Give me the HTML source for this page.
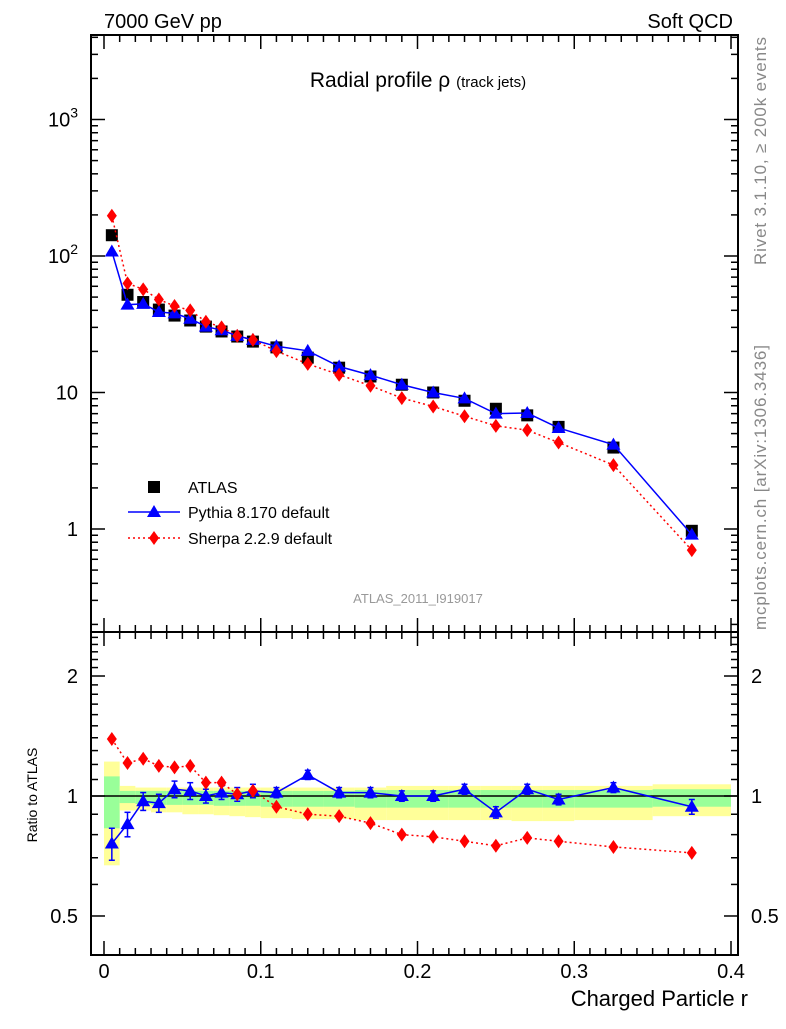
<!DOCTYPE html>
<html><head><meta charset="utf-8"><style>
body{margin:0;background:#fff;}
svg text{font-family:"Liberation Sans",sans-serif;}
</style></head><body>
<svg id="c" width="786" height="1024" xmlns="http://www.w3.org/2000/svg">
<g id="bands"></g><g id="grid"></g><g id="marks"></g><g id="axes"></g>
<text x="104" y="28" font-size="20">7000 GeV pp</text>
<text x="733" y="28" font-size="20" text-anchor="end">Soft QCD</text>
<text x="418" y="87" font-size="21" text-anchor="middle">Radial profile ρ <tspan font-size="15">(track jets)</tspan></text>
<text x="418" y="603" font-size="13" fill="#999" text-anchor="middle">ATLAS_2011_I919017</text>
<text transform="translate(766,265) rotate(-90)" font-size="17" fill="#888" textLength="228">Rivet 3.1.10, ≥ 200k events</text>
<text transform="translate(766,630) rotate(-90)" font-size="17" fill="#888" textLength="285">mcplots.cern.ch [arXiv:1306.3436]</text>
<text transform="translate(37,795) rotate(-90)" font-size="14" text-anchor="middle">Ratio to ATLAS</text>
<text x="748" y="1006" font-size="22" text-anchor="end">Charged Particle r</text>
<g>
<rect x="148" y="481" width="12" height="12" fill="#000"/>
<text x="188" y="493" font-size="16">ATLAS</text>
<line x1="128" y1="512" x2="180" y2="512" stroke="#00f" stroke-width="1.5"/>
<polygon points="154,505 161,517 147,517" fill="#00f"/>
<text x="188" y="518" font-size="16">Pythia 8.170 default</text>
<line x1="128" y1="538" x2="180" y2="538" stroke="#f00" stroke-width="1.5" stroke-dasharray="2,3"/>
<polygon points="154,531 159,538 154,545 149,538" fill="#f00"/>
<text x="188" y="544" font-size="16">Sherpa 2.2.9 default</text>
</g>
</svg>
<script>
const xs=[0.005,0.015,0.025,0.035,0.045,0.055,0.065,0.075,0.085,0.095,0.11,0.13,0.15,0.17,0.19,0.21,0.23,0.25,0.27,0.29,0.325,0.375];
const atlas=[142,52,46,40.5,36.6,33.7,30.4,28,25.7,23.6,21.4,18,15.2,13.1,11.4,10,8.7,7.6,6.8,5.6,3.95,0.97];
const pythia=[108,44,44.6,38.9,38,34.7,30.4,28.6,26,24.3,21.8,20.2,15.5,13.4,11.4,10,9.05,7,7.07,5.5,4.15,0.91];
const sherpa=[197,63,57,48,43,40,33,30,26,24.3,20.1,16.2,13.5,11.2,9.1,7.9,6.7,5.7,5.3,4.3,2.94,0.70];
const pythiaRatio=[0.76,0.85,0.97,0.96,1.04,1.03,1.0,1.02,1.01,1.03,1.02,1.13,1.02,1.02,1.0,1.0,1.04,0.91,1.04,0.98,1.05,0.94];
const pythiaRatioErr=[0.07,0.06,0.05,0.05,0.05,0.05,0.04,0.04,0.04,0.04,0.03,0.03,0.03,0.03,0.03,0.03,0.03,0.03,0.03,0.03,0.03,0.04];
const sherpaRatio=[1.39,1.21,1.24,1.19,1.18,1.19,1.08,1.08,1.01,1.03,0.94,0.90,0.89,0.855,0.80,0.79,0.77,0.75,0.785,0.77,0.745,0.72];
const binEdges=[0,.01,.02,.03,.04,.05,.06,.07,.08,.09,.1,.12,.14,.16,.18,.2,.22,.24,.26,.28,.3,.35,.4];
const yellowHi=[1.22,1.06,1.05,1.05,1.05,1.05,1.05,1.05,1.05,1.05,1.05,1.05,1.05,1.05,1.06,1.06,1.06,1.06,1.06,1.06,1.06,1.07];
const yellowLo=[0.67,0.92,0.92,0.91,0.91,0.90,0.90,0.895,0.89,0.885,0.88,0.875,0.875,0.87,0.87,0.87,0.87,0.87,0.865,0.865,0.87,0.89];
const greenHi=[1.12,1.03,1.03,1.03,1.03,1.03,1.03,1.03,1.03,1.03,1.03,1.03,1.03,1.035,1.035,1.035,1.035,1.035,1.035,1.035,1.035,1.04];
const greenLo=[0.83,0.96,0.955,0.95,0.95,0.95,0.95,0.945,0.945,0.945,0.94,0.94,0.94,0.935,0.935,0.935,0.935,0.935,0.935,0.935,0.935,0.94];
const mainTicks=[1,10,100,1000];
const mainTickBase=["1","10","10","10"];
const mainTickExp=["","","2","3"];
const ratioTicks=[0.5,1,2];
const ratioTickLabels=["0.5","1","2"];
const xTicks=[0,0.1,0.2,0.3,0.4];
const xTickLabels=["0","0.1","0.2","0.3","0.4"];

const NS="http://www.w3.org/2000/svg";
const L=91,R=738,T1=35,B1=632,T2=632,B2=955;
const X=v=>104+v*1567.5;
const Y1=v=>529-Math.log10(v)*136.5;
const Y2=v=>796-Math.log10(v)*398.6;
function mk(parent,tag,attrs){const e=document.createElementNS(NS,tag);for(const k in attrs)e.setAttribute(k,attrs[k]);document.getElementById(parent).appendChild(e);return e;}

for(let i=0;i<yellowHi.length;i++){
 const x0=X(binEdges[i]),x1=X(binEdges[i+1]);
 let e=mk('bands','rect',{x:x0,y:Y2(yellowHi[i]),width:x1-x0,height:Y2(yellowLo[i])-Y2(yellowHi[i]),fill:'#ffff99'});
 
 
 e=mk('bands','rect',{x:x0,y:Y2(greenHi[i]),width:x1-x0,height:Y2(greenLo[i])-Y2(greenHi[i]),fill:'#99ff99'});
 
 
}
mk('bands','line',{x1:L,x2:R,y1:Y2(1),y2:Y2(1),stroke:'#000','stroke-width':1.5});

let f=mk('axes','rect',{x:L,y:T1,width:R-L,height:B1-T1,fill:'none',stroke:'#000','stroke-width':2});


f=mk('axes','rect',{x:L,y:T2,width:R-L,height:B2-T2,fill:'none',stroke:'#000','stroke-width':2});



for(let d=-1;d<=3;d++){for(let m=1;m<=9;m++){const v=m*Math.pow(10,d);const y=Y1(v);if(y<T1||y>B1)continue;const len=m==1?14:7;
 mk('axes','line',{x1:L,x2:L+len,y1:y,y2:y,stroke:'#000','stroke-width':1.5});
 mk('axes','line',{x1:R,x2:R-len,y1:y,y2:y,stroke:'#000','stroke-width':1.5});}}
mainTicks.forEach((v,i)=>{const t=mk('axes','text',{x:78,y:Y1(v)+7,'font-size':20,'text-anchor':'end'});
 
 
 const a=document.createElementNS(NS,'tspan');a.textContent=mainTickBase[i];t.appendChild(a);
 if(mainTickExp[i]){const b=document.createElementNS(NS,'tspan');b.setAttribute('dy','-9');b.setAttribute('font-size','14');b.textContent=mainTickExp[i];t.appendChild(b);}
});
for(let k=4;k<=25;k++){const v=k/10;const y=Y2(v);if(y<T2+2||y>B2-2)continue;const major=(k==5||k==10||k==20);const len=major?14:7;
 mk('axes','line',{x1:L,x2:L+len,y1:y,y2:y,stroke:'#000','stroke-width':1.5});
 mk('axes','line',{x1:R,x2:R-len,y1:y,y2:y,stroke:'#000','stroke-width':1.5});}
ratioTicks.forEach((v,i)=>{let t=mk('axes','text',{x:78,y:Y2(v)+7,'font-size':20,'text-anchor':'end'});t.textContent=ratioTickLabels[i];
 
 
 t=mk('axes','text',{x:751,y:Y2(v)+7,'font-size':20});t.textContent=ratioTickLabels[i];
 
 });
for(let k=0;k<=40;k++){const v=k/100;const x=X(v);if(x<L||x>R)continue;const len=k%10==0?14:7;
 [[B1,-1],[T1,1],[B2,-1],[T2,1]].forEach(([y,s])=>mk('axes','line',{x1:x,x2:x,y1:y,y2:y+s*len,stroke:'#000','stroke-width':1.5}));}
xTicks.forEach((v,i)=>{const t=mk('axes','text',{x:X(v),y:978,'font-size':20,'text-anchor':'middle'});t.textContent=xTickLabels[i];
 
 });

function line(vals,Y,color,dash,name){const p=xs.map((x,i)=>X(x)+','+Y(vals[i])).join(' ');
 const e=mk('marks','polyline',{points:p,fill:'none',stroke:color,'stroke-width':1.5,'stroke-dasharray':dash||'none'});
 
 }
function tri(x,y,name){const e=mk('marks','polygon',{points:`${x},${y-7} ${x+7},${y+5} ${x-7},${y+5}`,fill:'#00f'});
 
 }
function dia(x,y,name){const e=mk('marks','polygon',{points:`${x},${y-7} ${x+5},${y} ${x},${y+7} ${x-5},${y}`,fill:'#f00'});
 
 }
function err(x,y0,y1,color){mk('marks','line',{x1:x,x2:x,y1:y0,y2:y1,stroke:color,'stroke-width':1.5});
 mk('marks','line',{x1:x-3,x2:x+3,y1:y0,y2:y0,stroke:color,'stroke-width':1.5});
 mk('marks','line',{x1:x-3,x2:x+3,y1:y1,y2:y1,stroke:color,'stroke-width':1.5});}

xs.forEach((x,i)=>{const e=mk('marks','rect',{x:X(x)-6,y:Y1(atlas[i])-6,width:12,height:12,fill:'#000'});
 
 });
line(sherpa,Y1,'#f00','2,3','sherpa-line');
line(pythia,Y1,'#00f',null,'pythia-line');
xs.forEach((x,i)=>{tri(X(x),Y1(pythia[i]),'pythia-point');});
xs.forEach((x,i)=>{dia(X(x),Y1(sherpa[i]),'sherpa-point');});
line(sherpaRatio,Y2,'#f00','2,3','sherpa-ratio-line');
line(pythiaRatio,Y2,'#00f',null,'pythia-ratio-line');
xs.forEach((x,i)=>{err(X(x),Y2(pythiaRatio[i]+pythiaRatioErr[i]),Y2(pythiaRatio[i]-pythiaRatioErr[i]),'#00f');tri(X(x),Y2(pythiaRatio[i]),'pythia-ratio-point');});
xs.forEach((x,i)=>{dia(X(x),Y2(sherpaRatio[i]),'sherpa-ratio-point');});
</script>
</body></html>
